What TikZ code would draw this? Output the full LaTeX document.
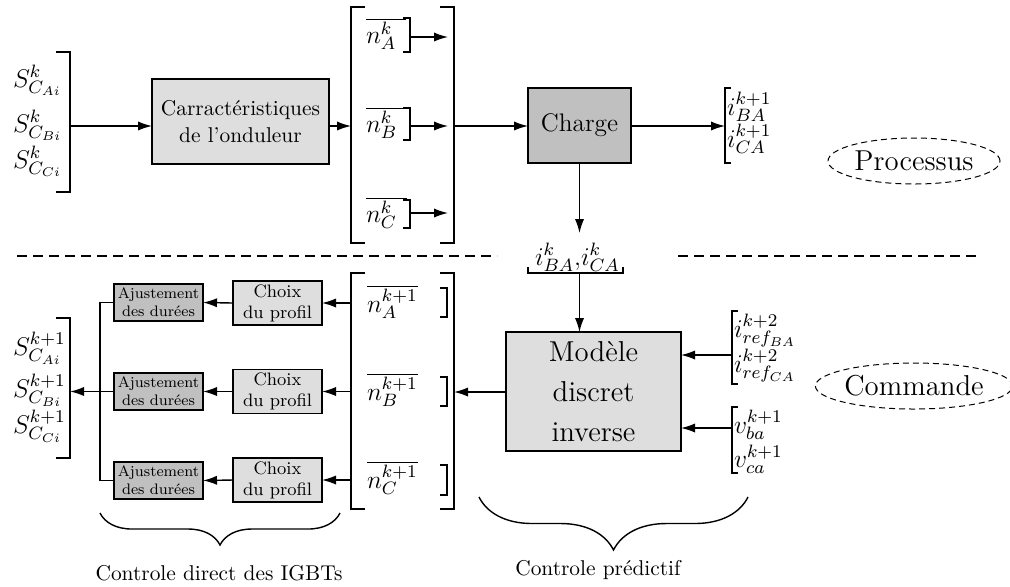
\RequirePackage{fix-cm}
\documentclass[tikz,border=0pt]{standalone}
\usetikzlibrary{arrows.meta,decorations.pathreplacing,shapes.geometric}
\definecolor{boxlight}{HTML}{DEDEDE}
\definecolor{boxdark}{HTML}{C0C0C0}
\begin{document}
\begin{tikzpicture}[x=0.5pt,y=-0.5pt,
 every node/.style={inner sep=0pt,outer sep=0pt},
 arr/.style={-{Latex[length=7pt,width=4.6pt]},line width=0.7pt},
 ln/.style={line width=0.7pt},
 boxL/.style={draw,line width=0.8pt,fill=boxlight,align=center},
 boxD/.style={draw,line width=0.8pt,fill=boxdark,align=center},
 lab/.style={font=\fontsize{12.8}{15}\selectfont,anchor=base west},
 txt/.style={font=\fontsize{10.7}{13.5}\selectfont,align=center},
 dsh/.style={dash pattern=on 5pt off 3pt,line width=0.6pt},
 ell/.style={draw,ellipse,dash pattern=on 3pt off 2pt,line width=0.5pt,font=\fontsize{14.4}{17}\selectfont,minimum width=86pt,minimum height=23pt}]
\useasboundingbox (0,0) rectangle (1010,586);

% ---------- Processus ----------
\node[boxL,txt,minimum width=88.5pt,minimum height=42.5pt] (car) at (240.5,121.5) {Carractéristiques\\de l'onduleur};
\node[boxD,font=\fontsize{12.7}{15}\selectfont,minimum width=51.5pt,minimum height=37.5pt] (chg) at (579.5,125.5) {Charge};

\node[lab] (sA) at (13,87) {$S^{k}_{C_{Ai}}$};
\node[lab] (sB) at (13,132) {$S^{k}_{C_{Bi}}$};
\node[lab] (sC) at (13,168) {$S^{k}_{C_{Ci}}$};
\draw[ln] (56,52) -- (70,52) -- (70,192) -- (56,192);
\coordinate (sOut) at (70,126);
\draw[arr] (sOut) -- (car.west |- sOut);

\coordinate (bL1) at (351,126);
\draw[arr] (car.east |- bL1) -- (bL1);
\draw[ln] (365,7) -- (351,7) -- (351,243) -- (365,243);
\draw[ln] (440,7) -- (454,7) -- (454,243) -- (440,243);

\node[lab] (nA) at (366,43) {$\overline{n^{k}_{A}\hspace{5pt}}$};
\node[lab] (nB) at (366,132) {$\overline{n^{k}_{B}\hspace{5pt}}$};
\node[lab] (nC) at (366,222) {$\overline{n^{k}_{C}\hspace{5pt}}$};
\draw[ln] (403,18) -- (410,18) -- (410,52) -- (403,52);
\draw[ln] (403,108) -- (410,108) -- (410,140) -- (403,140);
\draw[ln] (403,200) -- (410,200) -- (410,228) -- (403,228);
\coordinate (nAo) at (410,37); \coordinate (nAt) at (448,37);
\coordinate (nBo) at (410,126); \coordinate (nBt) at (448,126);
\coordinate (nCo) at (410,213); \coordinate (nCt) at (448,213);
\draw[arr] (nAo) -- (nAt);
\draw[arr] (nBo) -- (nBt);
\draw[arr] (nCo) -- (nCt);

\coordinate (bR1) at (454,126);
\draw[arr] (bR1) -- (chg.west |- bR1);
\coordinate (iBr) at (725,126);
\draw[arr] (chg.east |- iBr) -- (iBr);
\draw[ln] (731,88) -- (725,88) -- (725,163) -- (731,163);
\node[lab] (iB1) at (727,115) {$i^{k+1}_{BA}$};
\node[lab] (iC1) at (727,147) {$i^{k+1}_{CA}$};

\node[ell] (proc) at (914,161) {Processus};

% ---------- separation ----------
\coordinate (d1) at (17,256); \coordinate (d2) at (497,256);
\coordinate (d3) at (678,256); \coordinate (d4) at (977,256);
\draw[dsh] (d1) -- (d2);
\draw[dsh] (d3) -- (d4);

\node[lab] (iba) at (535,265) {$i^{k}_{BA}{,}i^{k}_{CA}$};
\draw[ln] (528,267) -- (528,273) -- (623,273) -- (623,267);
\coordinate (ibaTop) at (579.5,233);
\coordinate (ibaBot) at (579.5,273);
\draw[arr] (chg.south) -- (ibaTop);

% ---------- Commande ----------
\node[boxL,font=\fontsize{14.4}{20}\selectfont,minimum width=87.5pt,minimum height=59.5pt] (mod) at (593.5,391.5) {Modèle\\discret\\inverse};
\draw[arr] (ibaBot) -- (mod.north -| ibaBot);

\draw[ln] (738,311) -- (732,311) -- (732,384) -- (738,384);
\node[lab] (r1) at (734,337) {$i^{k+2}_{ref_{BA}}$};
\node[lab] (r2) at (734,372) {$i^{k+2}_{ref_{CA}}$};
\draw[ln] (738,407) -- (732,407) -- (732,473) -- (738,473);
\node[lab] (v1) at (734,433) {$v^{k+1}_{ba}$};
\node[lab] (v2) at (734,467) {$v^{k+1}_{ca}$};
\coordinate (refIn) at (732,355);
\coordinate (vIn) at (732,428);
\draw[arr] (refIn) -- (mod.east |- refIn);
\draw[arr] (vIn) -- (mod.east |- vIn);

\node[ell] (cmd) at (914,386) {Commande};

\draw[ln] (365,273) -- (351,273) -- (351,509) -- (365,509);
\draw[ln] (440,273) -- (454,273) -- (454,509) -- (440,509);
\coordinate (bR2) at (454,392);
\draw[arr] (mod.west |- bR2) -- (bR2);

\node[lab] (mA) at (367,312) {$\overline{n^{k+1}_{A}}$};
\node[lab] (mB) at (367,400) {$\overline{n^{k+1}_{B}}$};
\node[lab] (mC) at (367,488) {$\overline{n^{k+1}_{C}}$};
\draw[ln] (440,288) -- (447,288) -- (447,317) -- (440,317);
\draw[ln] (440,377) -- (447,377) -- (447,406) -- (440,406);
\draw[ln] (440,465) -- (447,465) -- (447,495) -- (440,495);

\node[boxL,font=\fontsize{9}{10.5}\selectfont,minimum width=44.5pt,minimum height=22pt] (chA) at (277.5,303) {Choix\\du profil};
\node[boxL,font=\fontsize{9}{10.5}\selectfont,minimum width=44.5pt,minimum height=22pt] (chB) at (277.5,391.5) {Choix\\du profil};
\node[boxL,font=\fontsize{9}{10.5}\selectfont,minimum width=44.5pt,minimum height=22pt] (chC) at (277.5,480) {Choix\\du profil};
\node[boxD,font=\fontsize{7.6}{9}\selectfont,minimum width=44.5pt,minimum height=18.5pt] (ajA) at (158.5,302.5) {Ajustement\\des durées};
\node[boxD,font=\fontsize{7.6}{9}\selectfont,minimum width=44.5pt,minimum height=18.5pt] (ajB) at (158.5,391.5) {Ajustement\\des durées};
\node[boxD,font=\fontsize{7.6}{9}\selectfont,minimum width=44.5pt,minimum height=18.5pt] (ajC) at (158.5,480.5) {Ajustement\\des durées};

\coordinate (bLA) at (351,303);
\coordinate (bLB) at (351,391.5);
\coordinate (bLC) at (351,480);
\draw[arr] (bLA) -- (chA.east);
\draw[arr] (bLB) -- (chB.east);
\draw[arr] (bLC) -- (chC.east);
\draw[arr] (chA.west) -- (ajA.east);
\draw[arr] (chB.west) -- (ajB.east);
\draw[arr] (chC.west) -- (ajC.east);

\coordinate (vT) at (100,303);
\draw[ln] (ajA.west) -- (ajA.west -| vT) -- (ajC.west -| vT) -- (ajC.west);
\coordinate (sOut2) at (70,391.5);
\draw[arr] (ajB.west) -- (sOut2);
\draw[ln] (56,318) -- (70,318) -- (70,458) -- (56,458);
\node[lab] (tA) at (13,355) {$S^{k+1}_{C_{Ai}}$};
\node[lab] (tB) at (13,397) {$S^{k+1}_{C_{Bi}}$};
\node[lab] (tC) at (13,433) {$S^{k+1}_{C_{Ci}}$};

% ---------- braces ----------
\coordinate (b1s) at (100,513); \coordinate (b1e) at (340,513);
\coordinate (b2s) at (479,497); \coordinate (b2e) at (748,497);
\draw[ln,decorate,decoration={brace,mirror,amplitude=16pt}] (b1s) -- (b1e);
\draw[ln,decorate,decoration={brace,mirror,amplitude=26.5pt}] (b2s) -- (b2e);
\node[txt] (lblD) at (219,573) {Controle direct des IGBTs};
\node[txt] (lblP) at (598,570) {Controle prédictif};
\end{tikzpicture}
\end{document}
